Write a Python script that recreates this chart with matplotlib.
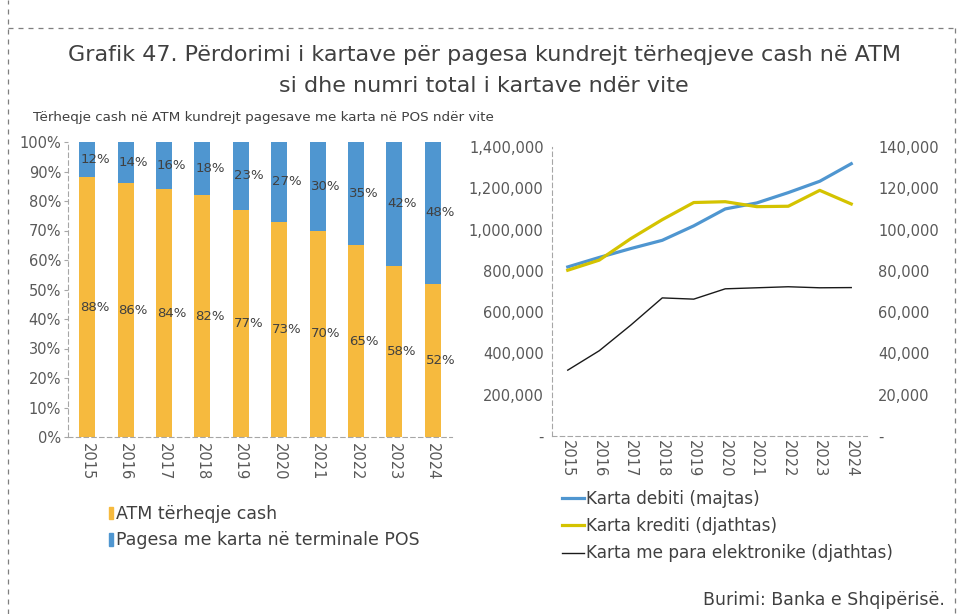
import matplotlib
matplotlib.use("Agg")
import matplotlib.pyplot as plt
from matplotlib.lines import Line2D
from matplotlib.patches import Patch
from matplotlib.ticker import FuncFormatter

plt.rcParams["font.family"] = ["DejaVu Sans"]

YEARS = ["2015", "2016", "2017", "2018", "2019", "2020", "2021", "2022", "2023", "2024"]
ATM_SHARE = [88, 86, 84, 82, 77, 73, 70, 65, 58, 52]
POS_SHARE = [12, 14, 16, 18, 23, 27, 30, 35, 42, 48]

DEBIT = [819000, 865000, 908000, 948000, 1018000, 1100000, 1129000, 1179000, 1234000, 1319000]
CREDIT = [80300, 85200, 95600, 104800, 113100, 113500, 111100, 111300, 119000, 112400]
PREPAID = [31900, 41300, 53700, 66900, 66300, 71300, 71800, 72300, 71800, 71900]

ORANGE = "#F6BA3E"
BLUE = "#4F96D0"
YELLOW = "#D4C300"
TXT = "#404040"
GRAY = "#595959"

fig = plt.figure(figsize=(9.68, 6.14), dpi=100)

# dashed frame
frame = dict(color="#7f7f7f", lw=0.9, ls=(0, (4, 4)), transform=fig.transFigure)
fig.add_artist(Line2D([8/968, 8/968], [0, 1], **frame))
fig.add_artist(Line2D([8/968, 955/968], [1-28/614, 1-28/614], **frame))
fig.add_artist(Line2D([955/968, 955/968], [1-28/614, 0], **frame))

fig.text(0.5, 1-55/614, "Grafik 47. Përdorimi i kartave për pagesa kundrejt tërheqjeve cash në ATM",
         ha="center", va="center", fontsize=16, color=TXT)
fig.text(0.5, 1-86/614, "si dhe numri total i kartave ndër vite",
         ha="center", va="center", fontsize=16, color=TXT)
fig.text(33/968, 1-117/614, "Tërheqje cash në ATM kundrejt pagesave me karta në POS ndër vite",
         ha="left", va="center", fontsize=9.7, color=TXT)

# ---- left: stacked 100% bars
ax1 = fig.add_axes([68/968, 1-437/614, 384/968, 295/614])
x = list(range(len(YEARS)))
ax1.bar(x, ATM_SHARE, width=0.42, color=ORANGE)
ax1.bar(x, POS_SHARE, width=0.42, bottom=ATM_SHARE, color=BLUE)
for i in x:
    ax1.text(i + 0.2, ATM_SHARE[i] / 2, f"{ATM_SHARE[i]}%", ha="center", va="center",
             fontsize=9.5, color=TXT)
    ax1.text(i + 0.2, ATM_SHARE[i] + POS_SHARE[i] / 2, f"{POS_SHARE[i]}%", ha="center",
             va="center", fontsize=9.5, color=TXT)
ax1.set_xlim(-0.5, 9.5)
ax1.set_ylim(0, 100)
ax1.set_yticks(range(0, 101, 10))
ax1.yaxis.set_major_formatter(FuncFormatter(lambda v, p: f"{int(v)}%"))
ax1.set_xticks(x)
ax1.set_xticklabels(YEARS, rotation=270)
for s in ("top", "right"):
    ax1.spines[s].set_visible(False)
for s in ("left", "bottom"):
    ax1.spines[s].set_linestyle((0, (4, 3)))
    ax1.spines[s].set_color("#a6a6a6")
ax1.tick_params(axis="y", length=3, color="#a6a6a6", labelsize=10.5, labelcolor=GRAY, pad=2)
ax1.tick_params(axis="x", length=0, labelsize=10.5, labelcolor=GRAY, pad=4)

h1 = [Patch(color=ORANGE), Patch(color=BLUE)]
fig.legend(h1, ["ATM tërheqje cash", "Pagesa me karta në terminale POS"],
           loc="upper left", bbox_to_anchor=(97/968, 1-493/614), frameon=False,
           fontsize=12.5, handlelength=0.25, handleheight=0.75, handletextpad=0.15,
           labelspacing=0.47, labelcolor=TXT, borderpad=0.2)

# ---- right: lines with twin axis
ax2 = fig.add_axes([552/968, 1-436/614, 315/968, 289/614])
ax3 = ax2.twinx()
l1, = ax2.plot(x, DEBIT, color=BLUE, lw=2.3)
l2, = ax3.plot(x, CREDIT, color=YELLOW, lw=2.3)
l3, = ax3.plot(x, PREPAID, color="#1a1a1a", lw=1.0)
ax2.set_xlim(-0.5, 9.5)
ax2.set_ylim(0, 1400000)
ax3.set_ylim(0, 140000)
ax2.set_yticks(range(0, 1400001, 200000))
ax3.set_yticks(range(0, 140001, 20000))
fmt = FuncFormatter(lambda v, p: "-" if v == 0 else f"{int(v):,}")
ax2.yaxis.set_major_formatter(fmt)
ax3.yaxis.set_major_formatter(fmt)
ax2.set_xticks(x)
ax2.set_xticklabels(YEARS, rotation=270)
for a in (ax2, ax3):
    for s in ("top", "right"):
        a.spines[s].set_visible(False)
ax3.spines["left"].set_visible(False)
ax3.spines["bottom"].set_visible(False)
for s in ("left", "bottom"):
    ax2.spines[s].set_linestyle((0, (4, 3)))
    ax2.spines[s].set_color("#a6a6a6")
ax2.tick_params(axis="y", length=0, labelsize=10.5, labelcolor=GRAY, pad=6)
ax3.tick_params(axis="y", length=0, labelsize=10.5, labelcolor=GRAY, pad=8)
ax2.tick_params(axis="x", length=0, labelsize=10.5, labelcolor=GRAY, pad=3)

fig.legend([l1, l2, l3],
           ["Karta debiti (majtas)", "Karta krediti (djathtas)",
            "Karta me para elektronike (djathtas)"],
           loc="upper left", bbox_to_anchor=(550/968, 1-478/614), frameon=False,
           fontsize=12.2, handlelength=1.3, handletextpad=0.1, labelspacing=0.55,
           labelcolor=TXT, borderpad=0.2)

fig.text(945/968, 1-600/614, "Burimi: Banka e Shqipërisë.", ha="right", va="center",
         fontsize=12.5, color=TXT)

fig.savefig("out.png", dpi=100)
